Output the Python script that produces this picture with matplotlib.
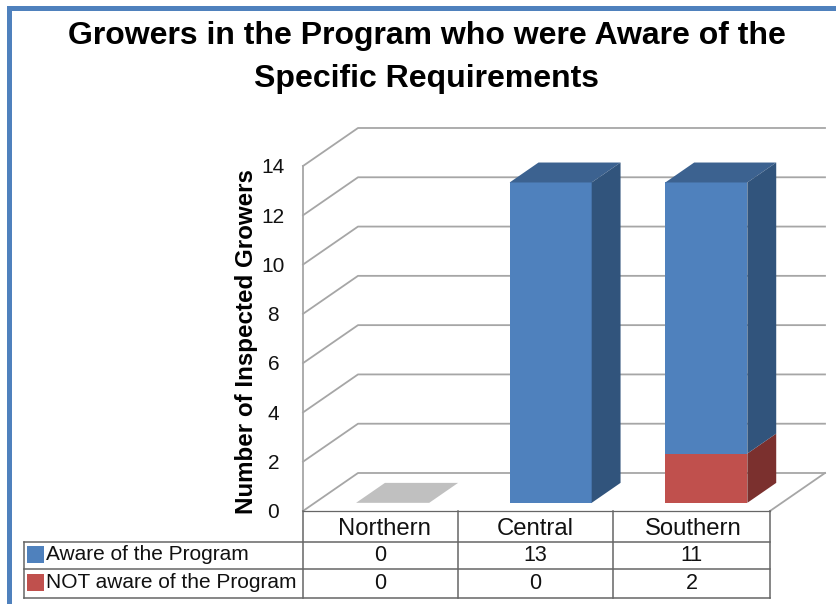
"""Growers aware of the program: fake-3D stacked bars with a data table under them."""
import matplotlib
matplotlib.use("Agg")
import matplotlib.pyplot as plt
from matplotlib.lines import Line2D
from matplotlib.patches import Polygon, Rectangle

plt.rcParams["font.family"] = ["Liberation Sans", "DejaVu Sans"]

TITLE = "Growers in the Program who were Aware of the\nSpecific Requirements"
YLABEL = "Number of Inspected Growers"
regions = ["Northern", "Central", "Southern"]
series_names = ["Aware of the Program", "NOT aware of the Program"]
aware = [0, 13, 11]
not_aware = [0, 0, 2]
y_ticks = [0, 2, 4, 6, 8, 10, 12, 14]

W, H = 836, 604
C_BLUE = ("#4f81bd", "#3c6290", "#31547c")
C_RED = ("#c0504d", "#8f3b39", "#7b302e")
C_ZERO = "#c0c0c0"
C_GRID = "#a6a6a6"
C_TABLE = "#666666"
C_FRAME = "#4f81bd"

# oblique projection: depth 1 shifts this much, in data units
DX = 55 / 155.67
DY = 38 / 24.64
D0, D1 = 0.215, 0.74
BAR_W = 0.527
BAR_SHIFT = 0.015


def pj(x, y, d):
    return (x + DX * d, y + DY * d)


def px_line(fig, xs, ys, color, lw):
    fig.add_artist(Line2D([x / W for x in xs], [1 - y / H for y in ys],
                          color=color, lw=lw, transform=fig.transFigure))


def draw_block(ax, i, lo, hi, cols, z, top=True):
    left = i + 0.5 + BAR_SHIFT - BAR_W / 2
    right = left + BAR_W
    ax.add_patch(Rectangle(pj(left, lo, D0), BAR_W, hi - lo, fc=cols[0], ec="none", zorder=z,
                           clip_on=False))
    if top:
        ax.add_patch(Polygon([pj(left, hi, D0), pj(right, hi, D0), pj(right, hi, D1), pj(left, hi, D1)],
                             fc=cols[1], ec="none", zorder=z, clip_on=False))
    ax.add_patch(Polygon([pj(right, lo, D0), pj(right, lo, D1), pj(right, hi, D1), pj(right, hi, D0)],
                         fc=cols[2], ec="none", zorder=z, clip_on=False))


fig = plt.figure(figsize=(W / 100, H / 100), dpi=100)
ax = fig.add_axes([303 / W, 1 - 511 / H, 467 / W, 345 / H])
ax.set_xlim(0, 3)
ax.set_ylim(0, 14)
ax.axis("off")

# walls and floor
right_edge = 3 + DX
for t in y_ticks:
    ax.plot([0, DX, right_edge], [t, t + DY, t + DY], color=C_GRID, lw=1.3, clip_on=False, zorder=1)
ax.plot([0, 0], [0, 14], color=C_GRID, lw=1.3, clip_on=False, zorder=1)
ax.plot([3, 3 + DX], [0, DY], color=C_GRID, lw=1.3, clip_on=False, zorder=1)

for t in y_ticks:
    ax.text(-0.19, t - 0.07, str(t), ha="center", va="center", fontsize=15, color="#111111")
ax.text(-0.366, 6.88, YLABEL, rotation=90, ha="center", va="center", fontsize=17.4,
        fontweight="bold", color="black")

# bars, south sits red under blue as in the source
for i in range(len(regions)):
    if aware[i] == 0 and not_aware[i] == 0:
        left = i + 0.5 - 0.235
        ax.add_patch(Polygon([pj(left, 0, D0), pj(left + 0.47, 0, D0),
                              pj(left + 0.47, 0, D1), pj(left, 0, D1)],
                             fc=C_ZERO, ec="none", zorder=3))
        continue
    if not_aware[i]:
        draw_block(ax, i, 0, not_aware[i], C_RED, 3, top=False)
    draw_block(ax, i, not_aware[i], not_aware[i] + aware[i], C_BLUE, 4)

# data table
col_x = [303, 458, 613, 770]
row_y = [511, 542, 569, 598]
left_x = 24
header_x = [384, 535, 693]
for y in row_y[1:]:
    px_line(fig, [left_x, col_x[-1]], [y, y], C_TABLE, 1.1)
px_line(fig, col_x[:1] + col_x[-1:], [row_y[0], row_y[0]], C_TABLE, 0.9)
px_line(fig, [left_x, left_x], [row_y[1], row_y[-1]], C_TABLE, 1.1)
for x in col_x:
    px_line(fig, [x, x], [row_y[0], row_y[-1]], C_TABLE, 1.1)

for j, name in enumerate(regions):
    cx = (col_x[j] + col_x[j + 1]) / 2 / W
    fig.text(header_x[j] / W, 1 - 529 / H, name, ha="center", va="center", fontsize=17.2, color="#111111")
    fig.text(cx, 1 - 555.5 / H, str(aware[j]), ha="center", va="center", fontsize=15.5, color="#111111")
    fig.text(cx, 1 - 583.5 / H, str(not_aware[j]), ha="center", va="center", fontsize=15.5, color="#111111")

for name, yc, col in zip(series_names, [554.5, 582.5], [C_BLUE[0], C_RED[0]]):
    fig.add_artist(Rectangle((27 / W, 1 - (yc + 8.5) / H), 17 / W, 17 / H, fc=col, ec="none",
                             transform=fig.transFigure))
    fig.text(46 / W, 1 - yc / H, name, ha="left", va="center", fontsize=15.05, color="#111111")

fig.text(427 / W, 1 - 57.5 / H, TITLE, ha="center", va="center", fontsize=23, fontweight="bold",
         color="black", linespacing=1.57)

# slide frame
fig.add_artist(Rectangle((7 / W, 0), 5 / W, 1 - 6 / H, fc=C_FRAME, ec="none", transform=fig.transFigure))
fig.add_artist(Rectangle((7 / W, 1 - 11 / H), 829 / W, 5 / H, fc=C_FRAME, ec="none",
                         transform=fig.transFigure))

fig.savefig("out.png", dpi=100)
